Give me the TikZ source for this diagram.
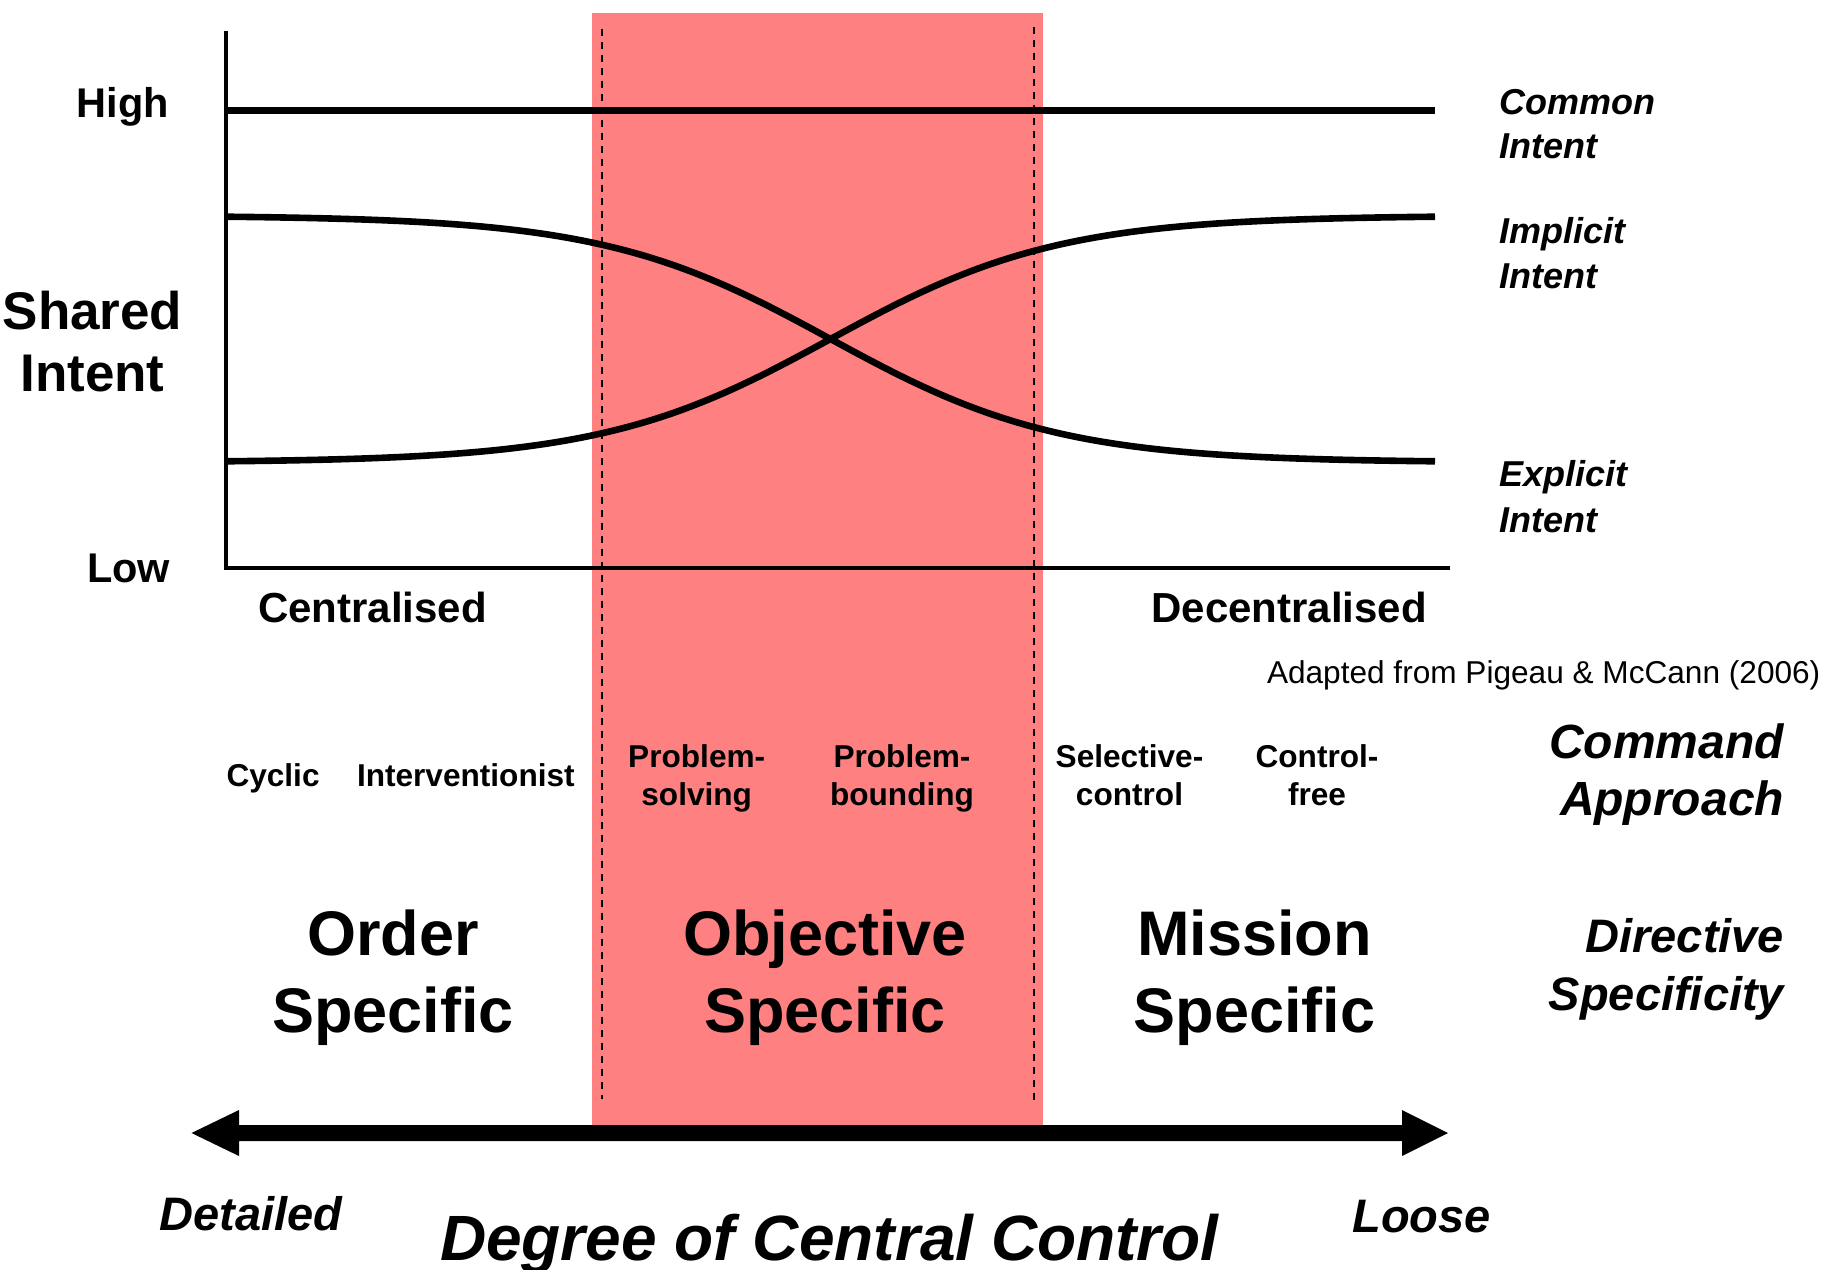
\documentclass[tikz,border=0pt]{standalone}
\usepackage{fontspec}
\setmainfont{Liberation Sans}
\definecolor{pinkband}{RGB}{255,128,128}
\begin{document}
\begin{tikzpicture}[x=0.5pt,y=-0.5pt,
  txt/.style={inner sep=0pt, outer sep=0pt},
  hilo/.style={txt, font=\bfseries\fontsize{20.75}{24}\selectfont},
  shared/.style={txt, font=\bfseries\fontsize{26.5}{31}\selectfont},
  ends/.style={txt, font=\bfseries\fontsize{21}{25}\selectfont},
  intentlab/.style={txt, font=\bfseries\itshape\fontsize{18}{22}\selectfont},
  src/.style={txt, font=\fontsize{15.8}{19}\selectfont},
  approach/.style={txt, font=\bfseries\fontsize{15.8}{19}\selectfont},
  cmd/.style={txt, font=\bfseries\itshape\fontsize{24}{28}\selectfont},
  big/.style={txt, font=\bfseries\fontsize{31.5}{37}\selectfont},
  dir/.style={txt, font=\bfseries\itshape\fontsize{23.5}{28}\selectfont},
  degree/.style={txt, font=\bfseries\itshape\fontsize{32}{38}\selectfont},
  axisline/.style={line width=1.9pt},
  curveline/.style={line width=3.3pt},
  dashline/.style={line width=0.7pt, dash pattern=on 3.5pt off 3pt}
]
\useasboundingbox (0,0) rectangle (1825,1269);

% band
\fill[pinkband] (592,13) rectangle (1043,1124.5);
\draw[dashline] (602,28.5) -- (602,1099);
\draw[dashline] (1034,27) -- (1034,1106);

% axes
\coordinate (ytop) at (226,31);
\coordinate (origin) at (226,568);
\coordinate (xend) at (1450,568);
\draw[axisline] (ytop) -- (origin) -- (xend);

% common intent line
\coordinate (cstart) at (226,110.5);
\coordinate (cend) at (1435,110.5);
\draw[curveline] (cstart) -- (cend);

% implicit / explicit curves
\draw[curveline] plot[domain=226:1435, samples=140, smooth] (\x, {339 - 123.5*tanh(0.0044*(\x-830.5))});
\draw[curveline] plot[domain=226:1435, samples=140, smooth] (\x, {339 + 123.5*tanh(0.0044*(\x-830.5))});

% left labels
\node[hilo, anchor=base east] (high) at (169,117.8) {High};
\node[hilo, anchor=base east] (low) at (170,582.4) {Low};
\node[shared, anchor=base] (shared1) at (92.5,329.4) {Shared};
\node[shared, anchor=base] (shared2) at (92.5,391.5) {Intent};

% axis end labels
\node[ends, anchor=base west] (central) at (258,622.6) {Centralised};
\node[ends, anchor=base east] (decentral) at (1427,622.6) {Decentralised};

% right intent labels
\node[intentlab, anchor=base west] (common1) at (1499.7,114.8) {Common};
\node[intentlab, anchor=base west] (common2) at (1499.7,158.4) {Intent};
\node[intentlab, anchor=base west] (implicit1) at (1499.7,243.3) {Implicit};
\node[intentlab, anchor=base west] (implicit2) at (1499.7,288.3) {Intent};
\node[intentlab, anchor=base west] (explicit1) at (1499.7,486.7) {Explicit};
\node[intentlab, anchor=base west] (explicit2) at (1499.7,532.6) {Intent};

% source
\node[src, anchor=base west] (source) at (1267,683) {Adapted from Pigeau \& McCann (2006)};

% command approaches
\node[approach, anchor=base west] (cyclic) at (226.5,786.4) {Cyclic};
\node[approach, anchor=base west] (interv) at (357,786.4) {Interventionist};
\node[approach, anchor=base] (ps1) at (696.7,767.5) {Problem-};
\node[approach, anchor=base] (ps2) at (696.7,805.2) {solving};
\node[approach, anchor=base] (pb1) at (902,767.5) {Problem-};
\node[approach, anchor=base] (pb2) at (902,805.2) {bounding};
\node[approach, anchor=base] (sc1) at (1129.5,767.5) {Selective-};
\node[approach, anchor=base] (sc2) at (1129.5,805.2) {control};
\node[approach, anchor=base] (cf1) at (1317,767.5) {Control-};
\node[approach, anchor=base] (cf2) at (1317,805.2) {free};
\node[cmd, anchor=base east] (cmd1) at (1784,758.8) {Command};
\node[cmd, anchor=base east] (cmd2) at (1784,815.4) {Approach};

% directive specificity
\node[big, anchor=base] (order1) at (393,955.8) {Order};
\node[big, anchor=base] (order2) at (393,1032) {Specific};
\node[big, anchor=base] (obj1) at (825,955.8) {Objective};
\node[big, anchor=base] (obj2) at (825,1032) {Specific};
\node[big, anchor=base] (mis1) at (1254.5,955.8) {Mission};
\node[big, anchor=base] (mis2) at (1254.5,1032) {Specific};
\node[dir, anchor=base east] (dir1) at (1784,952) {Directive};
\node[dir, anchor=base east] (dir2) at (1784,1010) {Specificity};

% double arrow
\coordinate (ltip) at (191.5,1133);
\coordinate (rtip) at (1448,1133);
\fill (ltip) -- (239,1110) -- (239,1125) -- (1402,1125) -- (1402,1110) -- (rtip)
      -- (1402,1156) -- (1402,1141) -- (239,1141) -- (239,1156) -- cycle;

% bottom labels
\node[dir, anchor=base west] (detailed) at (159.6,1230) {Detailed};
\node[dir, anchor=base west] (loose) at (1352.5,1232) {Loose};
\node[degree, anchor=base west] (degree) at (440,1260) {Degree of Central Control};
\end{tikzpicture}
\end{document}
